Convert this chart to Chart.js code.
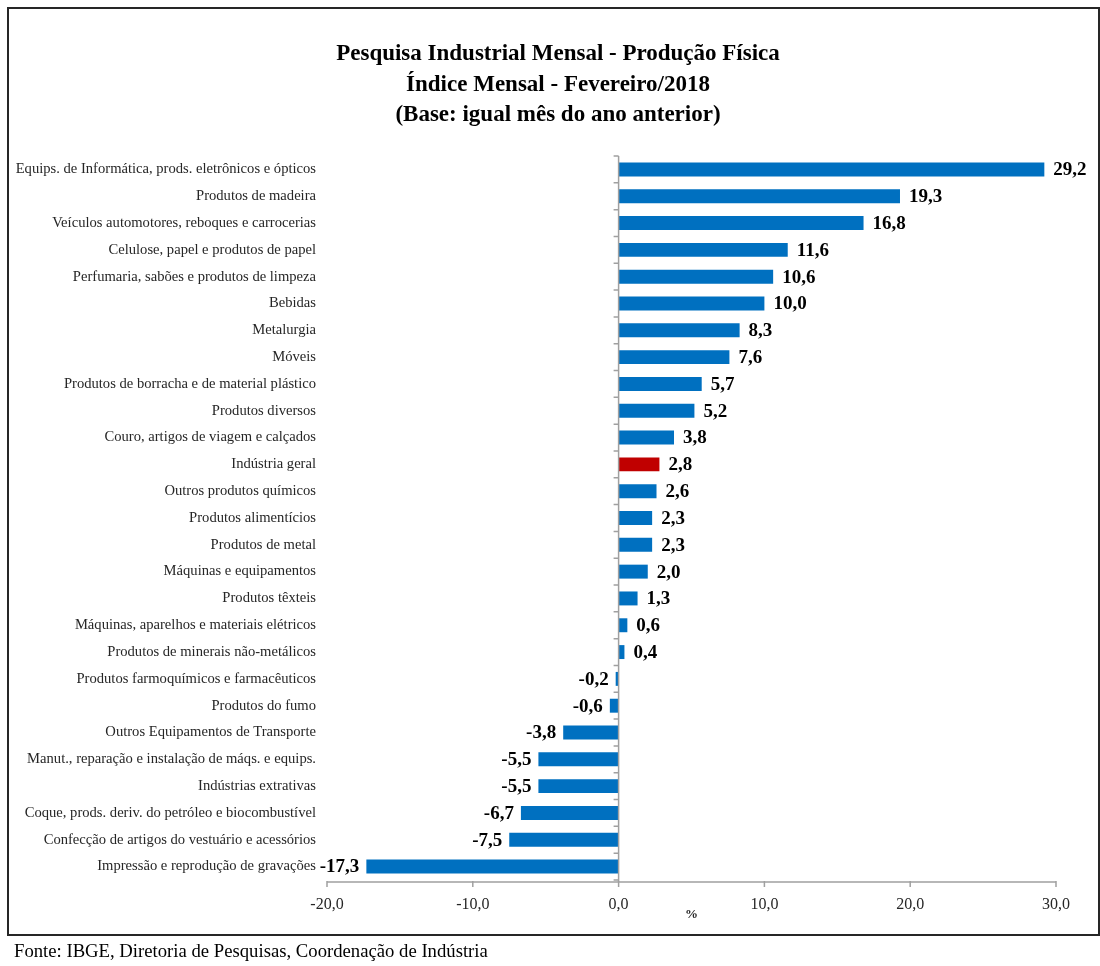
<!DOCTYPE html>
<html>
<head>
<meta charset="utf-8">
<script src="https://cdn.jsdelivr.net/npm/chart.js@4.4.1/dist/chart.umd.min.js"></script>
<style>
  html, body { margin: 0; padding: 0; background: #fff; }
  #wrap { position: relative; width: 1100px; height: 966px; overflow: hidden; }
  #c { position: absolute; left: 0; top: 0; }
  #frame { position: absolute; left: 7px; top: 7px; width: 1093px; height: 929px; border: 2px solid #262626; box-sizing: border-box; pointer-events: none; }
  #title { position: absolute; left: 258px; top: 38px; width: 600px; text-align: center; font: bold 23px "Liberation Serif", serif; line-height: 30.5px; color: #000; }
  #fonte { position: absolute; left: 14px; top: 940px; font: 18.7px "Liberation Serif", serif; line-height: 22px; color: #000; white-space: nowrap; }
</style>
</head>
<body>
<div id="wrap">
  <canvas id="c" width="1100" height="966"></canvas>
  <div id="frame"></div>
  <div id="title"></div>
  <div id="fonte">Fonte: IBGE, Diretoria de Pesquisas, Coordenação de Indústria</div>
</div>
<script>
const titleLines = [
  "Pesquisa Industrial Mensal - Produção Física",
  "Índice Mensal - Fevereiro/2018",
  "(Base: igual mês do ano anterior)"
];
const categories = [
  "Equips. de Informática, prods. eletrônicos e ópticos",
  "Produtos de madeira",
  "Veículos automotores, reboques e carrocerias",
  "Celulose, papel e produtos de papel",
  "Perfumaria, sabões e produtos de limpeza",
  "Bebidas",
  "Metalurgia",
  "Móveis",
  "Produtos de borracha e de material plástico",
  "Produtos diversos",
  "Couro, artigos de viagem e calçados",
  "Indústria geral",
  "Outros produtos químicos",
  "Produtos alimentícios",
  "Produtos de metal",
  "Máquinas e equipamentos",
  "Produtos têxteis",
  "Máquinas, aparelhos e materiais elétricos",
  "Produtos de minerais não-metálicos",
  "Produtos farmoquímicos e farmacêuticos",
  "Produtos do fumo",
  "Outros Equipamentos de Transporte",
  "Manut., reparação e instalação de máqs. e equips.",
  "Indústrias extrativas",
  "Coque, prods. deriv. do petróleo e biocombustível",
  "Confecção de artigos do vestuário e acessórios",
  "Impressão e reprodução de gravações"
];
const values = [29.2, 19.3, 16.8, 11.6, 10.6, 10.0, 8.3, 7.6, 5.7, 5.2, 3.8, 2.8, 2.6, 2.3, 2.3, 2.0, 1.3, 0.6, 0.4, -0.2, -0.6, -3.8, -5.5, -5.5, -6.7, -7.5, -17.3];
const highlightCategory = "Indústria geral";
const xMin = -20, xMax = 30, xStep = 10;
const xAxisTitle = "%";

document.getElementById('title').innerHTML = titleLines.map(t => '<div>' + t + '</div>').join('');

const fmt = v => Number(v).toFixed(1).replace('.', ',');
const barColors = categories.map(c => c === highlightCategory ? '#C00000' : '#0070C0');

const axisPlugin = {
  id: 'excelAxes',
  afterDatasetsDraw(chart) {
    const ctx = chart.ctx;
    const xs = chart.scales.x, ys = chart.scales.y;
    const area = chart.chartArea;
    ctx.save();
    ctx.strokeStyle = '#A0A0A0';
    ctx.lineWidth = 1.5;
    const x0 = xs.getPixelForValue(0);
    ctx.beginPath();
    ctx.moveTo(x0, area.top);
    ctx.lineTo(x0, area.bottom + 2);
    const step = ys.getPixelForValue(1) - ys.getPixelForValue(0);
    for (let i = 0; i <= categories.length; i++) {
      const y = ys.getPixelForValue(0) - step / 2 + i * step;
      ctx.moveTo(x0 - 5, y);
      ctx.lineTo(x0, y);
    }
    ctx.stroke();
    const yb = area.bottom + 2;
    ctx.beginPath();
    ctx.moveTo(xs.getPixelForValue(xMin), yb);
    ctx.lineTo(xs.getPixelForValue(xMax), yb);
    for (let v = xMin; v <= xMax; v += xStep) {
      const px = xs.getPixelForValue(v);
      ctx.moveTo(px, yb - 1);
      ctx.lineTo(px, yb + 5);
    }
    ctx.stroke();
    ctx.font = 'bold 19px "Liberation Serif", serif';
    ctx.fillStyle = '#000';
    ctx.textBaseline = 'middle';
    const meta = chart.getDatasetMeta(0);
    meta.data.forEach((bar, i) => {
      const v = values[i];
      const txt = fmt(v);
      if (v >= 0) {
        ctx.textAlign = 'left';
        ctx.fillText(txt, bar.x + 9, bar.y + 1);
      } else {
        ctx.textAlign = 'right';
        ctx.fillText(txt, bar.x - 7, bar.y + 1);
      }
    });
    ctx.restore();
  }
};

new Chart(document.getElementById('c'), {
  type: 'bar',
  data: {
    labels: categories,
    datasets: [{
      data: values,
      backgroundColor: barColors,
      borderWidth: 0,
      categoryPercentage: 1.0,
      barPercentage: 0.52
    }]
  },
  options: {
    indexAxis: 'y',
    responsive: false,
    animation: false,
    devicePixelRatio: 1,
    layout: { padding: { left: 8, right: 44, top: 156, bottom: 0 } },
    plugins: {
      legend: { display: false },
      tooltip: { enabled: false },
      title: { display: false }
    },
    scales: {
      x: {
        type: 'linear',
        min: xMin, max: xMax,
        afterFit(scale) { scale.height = 86; },
        grid: { display: false, drawTicks: false },
        border: { display: false },
        ticks: {
          stepSize: xStep,
          padding: 15,
          color: '#262626',
          font: { family: '"Liberation Serif", serif', size: 16 },
          callback: v => fmt(v)
        },
        title: {
          display: true,
          text: xAxisTitle,
          color: '#262626',
          font: { family: '"Liberation Serif", serif', size: 13, weight: 'bold', lineHeight: 1.2 },
          padding: { top: 0, bottom: 44 }
        }
      },
      y: {
        type: 'category',
        afterFit(scale) { scale.width = 319; },
        grid: { display: false, drawTicks: false },
        border: { display: false },
        ticks: {
          padding: 11,
          color: '#262626',
          autoSkip: false,
          font: { family: '"Liberation Serif", serif', size: 14.6 }
        }
      }
    }
  },
  plugins: [axisPlugin]
});
</script>
</body>
</html>
